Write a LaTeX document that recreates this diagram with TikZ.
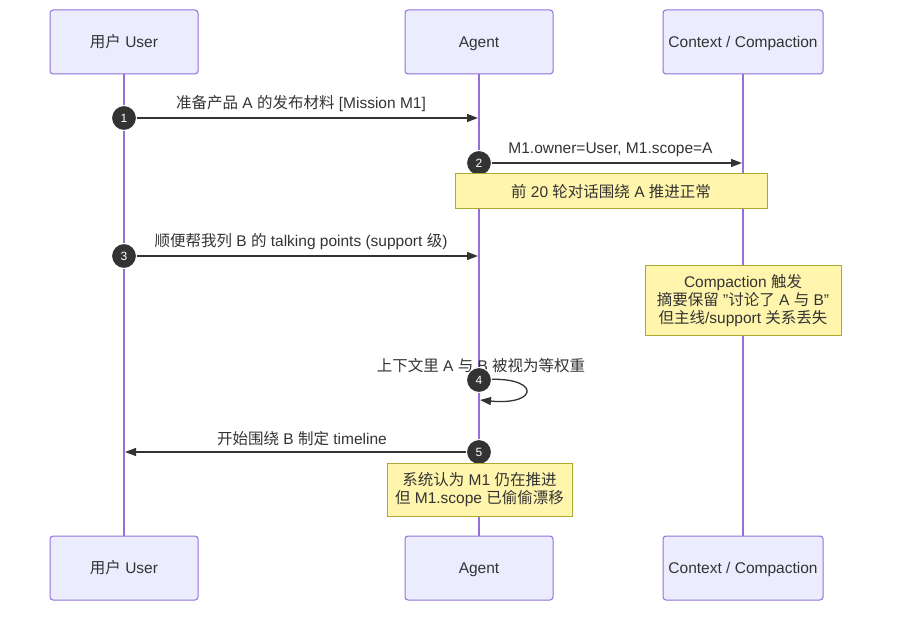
\documentclass[tikz,border=0pt]{standalone}
\usepackage{fontspec}
\setmainfont{Liberation Sans}
\newfontfamily\zhfont{Noto Sans CJK SC}
\newcommand{\zh}[1]{{\zhfont #1}}
\usepackage{tikz}
\usetikzlibrary{arrows.meta,positioning,calc}
\definecolor{actorfill}{HTML}{ECECFF}
\definecolor{actorline}{HTML}{9370DB}
\definecolor{ink}{HTML}{333333}
\definecolor{notefill}{HTML}{FFF5AD}
\definecolor{noteline}{HTML}{AAAA33}

\begin{document}
\begin{tikzpicture}[x=1pt, y=-1pt,
    every node/.style={font=\fontsize{15.5}{18}\selectfont, text=ink},
    actor/.style={draw=actorline, line width=1pt, fill=actorfill, rounded corners=3pt, minimum width=148pt, minimum height=64pt, inner sep=0pt, text height=13pt, text depth=2pt},
    lifeline/.style={actorline, line width=1.6pt},
    msg/.style={ink, line width=1.3pt, -{Triangle[length=11pt,width=8pt]}},
    badge/.style={circle, fill=ink, draw=white, line width=1pt, minimum size=25pt, inner sep=0pt, text=white, font=\fontsize{12}{13}\selectfont},
    note/.style={draw=noteline, line width=1pt, fill=notefill, align=center, inner sep=0pt}]
    \useasboundingbox (0,0) rectangle (899,617);
    % actors
    \node[actor] (usrtop) at (124,42) {\zh{用户} User};
    \node[actor] (agttop) at (479,42) {Agent};
    \node[actor, minimum width=160pt] (ctxtop) at (743,42) {Context / Compaction};
    \node[actor] (usrbot) at (124,568) {\zh{用户} User};
    \node[actor] (agtbot) at (479,568) {Agent};
    \node[actor, minimum width=160pt] (ctxbot) at (743,568) {Context / Compaction};
    \draw[lifeline] (usrtop) -- (usrbot);
    \draw[lifeline] (agttop) -- (agtbot);
    \draw[lifeline] (ctxtop) -- (ctxbot);
    % messages
    \coordinate (m1s) at (124,118); \coordinate (m1e) at (478,118);
    \coordinate (m2s) at (479,163); \coordinate (m2e) at (742,163);
    \coordinate (m3s) at (124,256); \coordinate (m3e) at (478,256);
    \coordinate (m4s) at (479,380); \coordinate (m4e) at (480,400);
    \coordinate (m5s) at (479,452); \coordinate (m5e) at (125,452);
    \draw[msg] (m1s) -- node[above=2pt] {\zh{准备产品} A \zh{的发布材料} [Mission M1]} (m1e);
    \draw[msg] (m2s) -- node[above=2pt] {M1.owner=User, M1.scope=A} (m2e);
    \draw[msg] (m3s) -- node[above=2pt] {\zh{顺便帮我列} B \zh{的} talking points (support \zh{级})} (m3e);
    \draw[msg] (m4s) .. controls (541,374) and (541,406) .. (m4e);
    \node (lbl4) at (481,366) {\zh{上下文里} A \zh{与} B \zh{被视为等权重}};
    \draw[msg] (m5s) -- node[above=2pt] {\zh{开始围绕} B \zh{制定} timeline} (m5e);
    \node[badge] (b1) at (m1s) {1};
    \node[badge] (b2) at (m2s) {2};
    \node[badge] (b3) at (m3s) {3};
    \node[badge] (b4) at (m4s) {4};
    \node[badge] (b5) at (m5s) {5};
    % notes
    \node[note, minimum width=312pt, minimum height=35pt] (n1) at (611,191.5) {\zh{前} 20 \zh{轮对话围绕} A \zh{推进正常}};
    \node[note, minimum width=196pt, minimum height=70pt] (n2) at (743,301) {Compaction \zh{触发}\\\zh{摘要保留} "\zh{讨论了} A \zh{与} B"\\\zh{但主线}/support \zh{关系丢失}};
    \node[note, minimum width=185pt, minimum height=53pt] (n3) at (479.5,489.5) {\zh{系统认为} M1 \zh{仍在推进}\\\zh{但} M1.scope \zh{已偷偷漂移}};
\end{tikzpicture}
\end{document}
